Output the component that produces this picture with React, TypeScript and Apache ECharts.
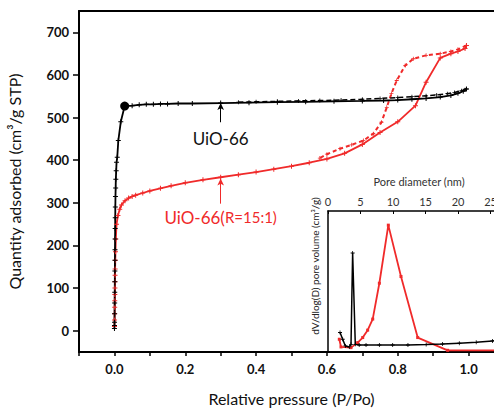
import React, { useEffect, useRef } from "react";
import * as echarts from "echarts";

// ---- Main isotherm data (Relative pressure P/Po vs quantity adsorbed) ----
const uioAdsX = [0.0001, 0.0002, 0.0003, 0.0005, 0.0007, 0.0009, 0.0011, 0.0013, 0.0015, 0.0017, 0.0019, 0.0021, 0.0023, 0.0026, 0.003, 0.0035, 0.004, 0.005, 0.006, 0.008, 0.011, 0.018, 0.029,
  0.05, 0.07, 0.09, 0.11, 0.13, 0.15, 0.18, 0.22, 0.3, 0.38, 0.46, 0.54, 0.62, 0.7, 0.76, 0.8, 0.84, 0.88, 0.92, 0.95, 0.97, 0.985, 0.994];
const uioAdsY = [5, 12, 20, 40, 65, 90, 115, 140, 165, 190, 215, 240, 265, 290, 315, 335, 355, 375, 395, 407, 446, 490, 527,
  528, 530, 531, 531, 532, 532, 533, 533, 534, 535, 536, 537, 538, 539, 540, 541, 543, 545, 548, 552, 557, 562, 567];

const uioDesX = [0.994, 0.99, 0.98, 0.96, 0.94, 0.91, 0.88, 0.84, 0.8, 0.75, 0.7, 0.64, 0.58, 0.52, 0.46, 0.4, 0.35];
const uioDesY = [567, 565, 563, 559, 556, 553, 551, 549, 547, 545, 543, 541, 540, 539, 538, 537, 536];

const rAdsX = [0.0002, 0.0004, 0.0006, 0.0008, 0.001, 0.0012, 0.0014, 0.0016, 0.0018, 0.002, 0.0025, 0.003, 0.004, 0.006,
  0.01, 0.015, 0.02, 0.03, 0.04, 0.05, 0.06, 0.08, 0.1, 0.13, 0.16, 0.2, 0.25, 0.3, 0.35, 0.4, 0.45, 0.5, 0.55, 0.6, 0.65, 0.7, 0.75, 0.8, 0.85, 0.88, 0.92, 0.95, 0.97, 0.99, 0.994];
const rAdsY = [10, 25, 40, 55, 70, 85, 100, 115, 130, 145, 165, 185, 215, 250,
  270, 285, 295, 305, 311, 315, 318, 323, 328, 334, 340, 347, 354, 360, 366, 372, 379, 386, 394, 403, 416, 437, 465, 490, 528, 583, 640, 650, 655, 662, 669];

const rDesX = [0.994, 0.97, 0.95, 0.92, 0.88, 0.844, 0.821, 0.797, 0.782, 0.769, 0.754, 0.731, 0.703, 0.67, 0.637, 0.6, 0.58];
const rDesY = [669, 660, 655, 650, 646, 638, 622, 587, 556, 524, 489, 462, 446, 436, 427, 414, 405];

// ---- Inset: pore size distribution ----
const poreRX = [1.74, 2.0, 3.54, 4.57, 5.34, 6.1, 6.88, 7.9, 9.28, 11.23, 13.8, 18.4, 30];
const poreRY = [0.084, 0.029, 0.024, 0.06, 0.096, 0.149, 0.228, 0.484, 0.899, 0.532, 0.096, 0.005, 0.005];
const poreBX = [1.85, 2.26, 2.67, 3.28, 3.54, 3.79, 4.2, 4.8, 5.85, 7.9, 9.95, 12.3, 15.1, 17.6, 20.2, 22.8, 25.3, 30];
const poreBY = [0.132, 0.084, 0.036, 0.029, 0.048, 0.7, 0.048, 0.043, 0.043, 0.043, 0.043, 0.043, 0.046, 0.05, 0.056, 0.062, 0.072, 0.08];

const mainYTicks = [0, 100, 200, 300, 400, 500, 600, 700];
const mainYMinorTicks = [-50, 50, 150, 250, 350, 450, 550, 650, 750];

const RED = "#f02a2a";
const PLUS = "path://M4,0h2v4h4v2h-4v4h-2v-4h-4v-2h4z";
const FONT = "Lato";

const zip = (xs: number[], ys: number[]) => xs.map((x, i) => [x, ys[i]]);

export default function App() {
  const ref = useRef<HTMLDivElement>(null);
  useEffect(() => {
    if (!ref.current) return;
    const chart = echarts.init(ref.current, undefined, { renderer: "svg" });
    const uioAds: any[] = zip(uioAdsX, uioAdsY).map((p) =>
      p[0] === 0.029 ? { value: p, symbol: "circle", symbolSize: 9 } : p
    );
    const option: any = {
      animation: false,
      backgroundColor: "#fff",
      textStyle: { fontFamily: FONT },
      grid: [
        { left: 79, right: -10, top: 11, bottom: 56, outerBoundsMode: "none", containLabel: false },
        { left: 328, right: -16, top: 211, bottom: 57, outerBoundsMode: "none", containLabel: false },
      ],
      xAxis: [
        {
          type: "value", gridIndex: 0, min: -0.1, max: 1.1, interval: 0.1,
          name: "Relative pressure (P/Po)", nameLocation: "middle", nameGap: 38,
          nameTextStyle: { fontSize: 16, color: "#111", fontFamily: FONT },
          axisLine: { onZero: false, lineStyle: { color: "#000", width: 2 } },
          axisTick: { length: 4, lineStyle: { color: "#000", width: 1.5 } },
          axisLabel: {
            fontSize: 13, fontWeight: "bold", color: "#111", margin: 10, fontFamily: FONT,
            formatter: (v: number) => (Math.round(v * 10) % 2 === 0 ? v.toFixed(1) : ""),
          },
          splitLine: { show: false },
        },
        {
          type: "value", gridIndex: 0, position: "top", min: -0.1, max: 1.1,
          axisLine: { onZero: false, lineStyle: { color: "#000", width: 2 } },
          axisTick: { show: false }, axisLabel: { show: false }, splitLine: { show: false },
        },
        {
          type: "value", gridIndex: 1, position: "top", min: 0, max: 28, interval: 5,
          name: "Pore diameter (nm)", nameLocation: "middle", nameGap: 24,
          nameTextStyle: { fontSize: 11, color: "#333", fontFamily: FONT },
          axisLine: { onZero: false, lineStyle: { color: "#000", width: 1.5 } },
          axisTick: { inside: true, length: 3, lineStyle: { color: "#000" } },
          axisLabel: { fontSize: 11, color: "#333", margin: 4, fontFamily: FONT, showMaxLabel: false },
          splitLine: { show: false },
        },
      ],
      yAxis: [
        {
          type: "value", gridIndex: 0, min: -50, max: 750, interval: 50,
          name: "Quantity adsorbed (cm\u00b3/g STP)", nameLocation: "middle", nameGap: 57,
          nameTextStyle: { fontSize: 16, color: "#111", fontFamily: FONT },
          axisLine: { onZero: false, lineStyle: { color: "#000", width: 2 } },
          axisTick: { length: 6, customValues: mainYTicks, lineStyle: { color: "#000", width: 1.5 } },
          axisLabel: {
            fontSize: 13, fontWeight: "bold", color: "#111", margin: 10, fontFamily: FONT,
            customValues: mainYTicks,
          },
          splitLine: { show: false },
        },
        {
          type: "value", gridIndex: 0, min: -50, max: 750, interval: 50,
          axisLine: { show: false, onZero: false },
          axisTick: { length: 3, customValues: mainYMinorTicks, lineStyle: { color: "#000", width: 1.5 } },
          axisLabel: { show: false }, splitLine: { show: false },
        },
        {
          type: "value", gridIndex: 1, min: 0, max: 1,
          name: "dV/dlog(D) pore volume (cm\u00b3/g)", nameLocation: "middle", nameGap: 8,
          nameTextStyle: { fontSize: 10, color: "#222", fontFamily: FONT, padding: [0, 0, 0, 30] },
          axisLine: { onZero: false, lineStyle: { color: "#000", width: 1.5 } },
          axisTick: { show: false }, axisLabel: { show: false }, splitLine: { show: false },
        },
      ],
      series: [
        {
          name: "UiO-66(R=15:1) desorption", type: "line", xAxisIndex: 0, yAxisIndex: 0,
          data: zip(rDesX, rDesY), symbol: PLUS, symbolSize: 4, showSymbol: true,
          lineStyle: { color: RED, width: 2, type: [4, 3] }, itemStyle: { color: RED },
        },
        {
          name: "UiO-66(R=15:1)", type: "line", xAxisIndex: 0, yAxisIndex: 0,
          data: zip(rAdsX, rAdsY), symbol: PLUS, symbolSize: 5,
          lineStyle: { color: RED, width: 1.8 }, itemStyle: { color: RED },
          markLine: {
            silent: true, symbol: ["none", "arrow"], symbolSize: [5, 7], label: { show: false },
            lineStyle: { color: RED, width: 1, type: "solid" },
            data: [[{ coord: [0.3, 298] }, { coord: [0.3, 357] }]],
          },
          markPoint: {
            silent: true,
            data: [{
              coord: [0.3, 266], symbol: "circle", symbolSize: 0,
              label: {
                show: true, position: "inside", formatter: "{a|UiO-66(}{b|R=15:1)}",
                rich: {
                  a: { fontSize: 17, color: RED, fontFamily: FONT },
                  b: { fontSize: 15, color: RED, fontFamily: FONT },
                },
              },
            }],
          },
        },
        {
          name: "UiO-66 desorption", type: "line", xAxisIndex: 0, yAxisIndex: 0,
          data: zip(uioDesX, uioDesY), symbol: PLUS, symbolSize: 4,
          lineStyle: { color: "#000", width: 1.5, type: [5, 3] }, itemStyle: { color: "#000" },
        },
        {
          name: "UiO-66", type: "line", xAxisIndex: 0, yAxisIndex: 0,
          data: uioAds, symbol: PLUS, symbolSize: 5,
          lineStyle: { color: "#000", width: 1.8 }, itemStyle: { color: "#000" },
          markLine: {
            silent: true, symbol: ["none", "arrow"], symbolSize: [5, 7], label: { show: false },
            lineStyle: { color: "#000", width: 1, type: "solid" },
            data: [[{ coord: [0.3, 489] }, { coord: [0.3, 534] }]],
          },
          markPoint: {
            silent: true,
            data: [{
              coord: [0.3, 451], symbol: "circle", symbolSize: 0,
              label: { show: true, position: "inside", formatter: "UiO-66", fontSize: 17, color: "#111", fontFamily: FONT },
            }],
          },
        },
        {
          name: "PSD UiO-66(R=15:1)", type: "line", xAxisIndex: 2, yAxisIndex: 2,
          data: zip(poreRX, poreRY), symbol: "rect", symbolSize: 3,
          lineStyle: { color: RED, width: 1.8 }, itemStyle: { color: RED },
        },
        {
          name: "PSD UiO-66", type: "line", xAxisIndex: 2, yAxisIndex: 2,
          data: zip(poreBX, poreBY), symbol: PLUS, symbolSize: 4,
          lineStyle: { color: "#000", width: 1.5 }, itemStyle: { color: "#000" },
        },
      ],
    };
    chart.setOption(option);
    return () => chart.dispose();
  }, []);
  return (
    <div
      ref={ref}
      style={{ position: "fixed", left: 0, top: 0, width: 494, height: 408, overflow: "hidden" }}
    />
  );
}
